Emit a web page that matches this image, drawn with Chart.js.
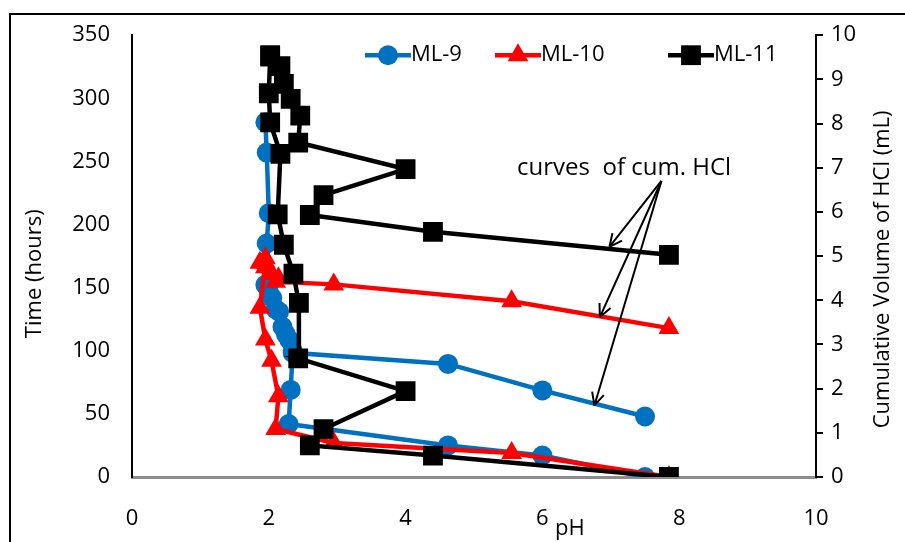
<!DOCTYPE html>
<html>
<head>
<meta charset="utf-8">
<script src="https://cdn.jsdelivr.net/npm/chart.js@4.4.1/dist/chart.umd.min.js"></script>
<style>
  html, body { margin: 0; padding: 0; background: #fff; }
</style>
</head>
<body>
<canvas id="myChart" width="905" height="542"></canvas>
<script>
// --- data (pH on x, time on left axis, cum. HCl on right axis) ---
const seriesNames = ['ML-9', 'ML-10', 'ML-11'];

const ml9TimePH = [7.5, 6.0, 4.62, 2.29, 2.32, 2.35, 2.25, 2.15, 2.05, 1.97, 2.0, 1.97, 1.95];
const ml9Time   = [0, 17, 25, 42, 69, 100, 113, 131, 142, 185, 209, 257, 281];
const ml9HclPH  = [7.5, 6.0, 4.62, 2.35, 2.3, 2.2, 2.1, 2.0, 1.95];
const ml9Hcl    = [1.37, 1.96, 2.56, 2.81, 3.1, 3.4, 3.8, 4.2, 4.35];

const ml10PH   = [7.85, 5.55, 2.95, 2.1, 2.14, 2.04, 1.95, 1.87, 1.95];
const ml10Time = [0, 19, 27, 38, 64, 92, 109, 134, 170];
const ml10Hcl  = [3.37, 3.98, 4.36, 4.42, 4.5, 4.6, 4.75, 4.85, 4.95];

const ml11TimePH = [7.85, 4.4, 2.6, 2.8, 4.0, 2.43, 2.44, 2.36, 2.22, 2.13, 2.17, 2.02, 2.0, 2.02];
const ml11Time   = [0, 17, 25, 38, 68, 94, 138, 161, 184, 208, 256, 281, 304, 333];
const ml11HclPH  = [7.85, 4.4, 2.6, 2.8, 4.0, 2.43, 2.46, 2.32, 2.22, 2.17, 2.02];
const ml11Hcl    = [5.03, 5.55, 5.93, 6.38, 6.97, 7.57, 8.18, 8.56, 8.9, 9.3, 9.55];

// annotation: text anchor and arrow tips in (pH, mL) units
const noteText = 'curves  of cum. HCl';
const noteAt = { x: 5.63, y: 7.0 };
const arrowFrom = { x: 7.74, y: 6.7 };
const arrowTips = [{ x: 6.98, y: 5.21 }, { x: 6.84, y: 3.62 }, { x: 6.76, y: 1.62 }];

const FONT = "'Open Sans', 'Noto Sans', sans-serif";
const colors = ['#0070C0', '#FF0000', '#000000'];
const styles = ['circle', 'triangle', 'rect'];
const radii = [10, 12, 14];

function pts(xs, ys) {
    return xs.map((x, i) => ({ x: x, y: ys[i] }));
}

function makeSet(k, data, axis) {
    return {
        label: seriesNames[k],
        data: data,
        yAxisID: axis,
        showLine: true,
        borderColor: colors[k],
        backgroundColor: colors[k],
        borderWidth: 4.5,
        pointStyle: styles[k],
        pointRadius: radii[k],
        pointBorderWidth: 0,
        pointHoverRadius: radii[k],
        tension: 0,
        order: 3 - k
    };
}

const frame = {
    id: 'frame',
    beforeDraw(chart) {
        const c = chart.ctx;
        c.save();
        c.fillStyle = '#fff';
        c.fillRect(0, 0, chart.width, chart.height);
        c.strokeStyle = '#000';
        c.lineWidth = 2;
        c.beginPath();
        c.moveTo(10, chart.height);
        c.lineTo(10, 14);
        c.lineTo(chart.width, 14);
        c.stroke();
        c.restore();
    }
};

const extras = {
    id: 'extras',
    afterDraw(chart) {
        const c = chart.ctx;
        const a = chart.chartArea;
        const sx = chart.scales.x, sr = chart.scales.y1;
        c.save();

        // axis titles
        c.fillStyle = '#000';
        c.font = '22px ' + FONT;
        c.textAlign = 'center';
        c.textBaseline = 'middle';
        c.fillText('pH', a.left + (a.right - a.left) * 0.64, chart.height - 13);
        c.save();
        c.translate(35, a.top + (a.bottom - a.top) * 0.54);
        c.rotate(-Math.PI / 2);
        c.fillText('Time (hours)', 0, 0);
        c.restore();
        c.save();
        c.translate(a.right + 67, a.top + (a.bottom - a.top) * 0.53);
        c.rotate(-Math.PI / 2);
        c.fillText('Cumulative Volume of HCl (mL)', 0, 0);
        c.restore();

        // legend
        const ly = a.top + 20;
        const lx = [a.left + 233, a.left + 363, a.left + 536];
        seriesNames.forEach((name, k) => {
            c.strokeStyle = colors[k];
            c.lineWidth = 4.5;
            c.beginPath();
            c.moveTo(lx[k], ly);
            c.lineTo(lx[k] + 46, ly);
            c.stroke();
            c.fillStyle = colors[k];
            Chart.helpers.drawPoint(c, { pointStyle: styles[k], radius: radii[k], borderWidth: 0 }, lx[k] + 23, ly);
            c.fillStyle = '#000';
            c.font = '22px ' + FONT;
            c.textAlign = 'left';
            c.textBaseline = 'middle';
            c.fillText(name, lx[k] + 46, ly);
        });

        // annotation text and arrows
        c.font = '24px ' + FONT;
        c.textAlign = 'left';
        c.textBaseline = 'middle';
        c.fillStyle = '#000';
        c.fillText(noteText, sx.getPixelForValue(noteAt.x), sr.getPixelForValue(noteAt.y));
        const ox = sx.getPixelForValue(arrowFrom.x), oy = sr.getPixelForValue(arrowFrom.y);
        c.strokeStyle = '#000';
        c.lineWidth = 2;
        arrowTips.forEach(t => {
            const tx = sx.getPixelForValue(t.x), ty = sr.getPixelForValue(t.y);
            const ang = Math.atan2(ty - oy, tx - ox);
            c.beginPath();
            c.moveTo(ox, oy);
            c.lineTo(tx, ty);
            [0.45, -0.45].forEach(d => {
                c.moveTo(tx, ty);
                c.lineTo(tx - 14 * Math.cos(ang + d), ty - 14 * Math.sin(ang + d));
            });
            c.stroke();
        });
        c.restore();
    }
};

const ctx = document.getElementById('myChart').getContext('2d');
const myChart = new Chart(ctx, {
    type: 'scatter',
    data: {
        datasets: [
            makeSet(0, pts(ml9TimePH, ml9Time), 'y'),
            makeSet(0, pts(ml9HclPH, ml9Hcl), 'y1'),
            makeSet(1, pts(ml10PH, ml10Time), 'y'),
            makeSet(1, pts(ml10PH, ml10Hcl), 'y1'),
            makeSet(2, pts(ml11TimePH, ml11Time), 'y'),
            makeSet(2, pts(ml11HclPH, ml11Hcl), 'y1')
        ]
    },
    options: {
        responsive: false,
        animation: false,
        events: [],
        layout: { padding: { top: 32, left: 0, right: 0, bottom: 0 } },
        plugins: { legend: { display: false }, tooltip: { enabled: false } },
        scales: {
            x: {
                type: 'linear',
                min: 0,
                max: 10,
                ticks: { stepSize: 2, color: '#000', padding: 29, font: { family: FONT, size: 22 } },
                grid: { display: false, drawTicks: false },
                border: { display: true, color: '#8c8c8c', width: 3 },
                afterFit: s => { s.height = 65; }
            },
            y: {
                position: 'left',
                min: 0,
                max: 350,
                ticks: { stepSize: 50, color: '#000', padding: 22, font: { family: FONT, size: 22 } },
                grid: { display: false, drawTicks: false },
                border: { display: true, color: '#000', width: 2 },
                afterFit: s => { s.width = 132; }
            },
            y1: {
                position: 'right',
                min: 0,
                max: 10,
                ticks: { stepSize: 1, color: '#000', padding: 8, font: { family: FONT, size: 22 } },
                grid: { display: true, drawOnChartArea: false, drawTicks: true, tickLength: 7, color: '#000', lineWidth: 2 },
                border: { display: true, color: '#000', width: 2 },
                afterFit: s => { s.width = 89; }
            }
        }
    },
    plugins: [frame, extras]
});
</script>
</body>
</html>
